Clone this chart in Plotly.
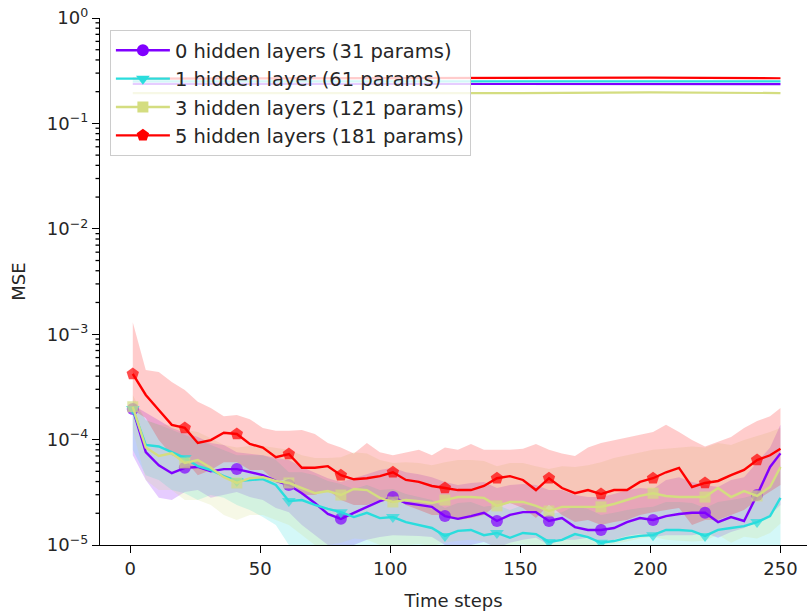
import math
import plotly.graph_objects as go

# ---------------- data ----------------
time_steps = [1, 6, 11, 16, 21, 26, 31, 36, 41, 46, 51, 56, 61, 66, 71, 76, 81, 86, 91, 96,
              101, 106, 111, 116, 121, 126, 131, 136, 141, 146, 151, 156, 161, 166, 171, 176,
              181, 186, 191, 196, 201, 206, 211, 216, 221, 226, 231, 236, 241, 246, 250]

# MSE values in units of 1e-5
mse0_mean = [19.5, 7.6, 5.7, 4.8, 5.4, 5.5, 5.0, 5.25, 5.25, 4.9, 4.6, 4.05, 3.71, 3.1, 2.5, 1.97,
             1.77, 2.02, 2.3, 2.61, 2.85, 2.5, 2.4, 2.3, 1.88, 1.77, 1.88, 2.02, 1.69, 1.93, 2.05,
             2.05, 1.69, 1.8, 1.48, 1.39, 1.39, 1.45, 1.65, 1.8, 1.73, 1.88, 1.97, 2.02, 2.02,
             1.65, 1.84, 1.69, 2.98, 5.5, 7.4]
mse0_upper = [21.3, 18.2, 15.3, 12.9, 11.6, 10.6, 9.3, 8.9, 7.6, 7.4, 7.1, 6.7, 6.4, 5.5, 4.9, 4.3,
              3.97, 4.3, 4.7, 5.15, 5.4, 4.9, 4.7, 4.4, 3.97, 3.71, 3.88, 3.97, 3.47, 3.71, 3.8,
              3.71, 3.32, 3.32, 2.98, 2.85, 2.85, 3.04, 3.32, 3.47, 3.4, 4.14, 4.4, 3.97, 3.71,
              3.55, 4.14, 4.4, 6.1, 8.4, 13.8]
mse0_lower = [7.1, 4.14, 2.8, 2.67, 3.18, 3.32, 2.8, 2.98, 3.18, 2.85, 2.67, 2.25, 2.05, 1.55, 1.24,
              1.0, 0.9, 1.0, 1.12, 1.19, 1.24, 1.24, 1.22, 1.19, 1.0, 0.96, 1.0, 1.07, 0.94, 1.05,
              1.12, 1.17, 1.0, 1.12, 1.12, 1.17, 1.07, 1.12, 1.22, 1.27, 1.19, 1.24, 1.24, 1.24,
              1.3, 1.17, 1.33, 1.45, 1.65, 1.93, 2.4]

mse1_mean = [19.5, 8.9, 8.6, 7.6, 6.7, 5.6, 5.15, 4.5, 4.05, 4.14, 4.22, 3.71, 2.61, 2.67, 2.4, 2.2,
             2.05, 1.84, 2.02, 1.8, 1.84, 1.65, 1.55, 1.45, 1.22, 1.36, 1.39, 1.24, 1.3, 1.17, 1.3,
             1.27, 1.07, 1.12, 1.27, 1.19, 1.05, 1.09, 1.17, 1.22, 1.24, 1.39, 1.39, 1.36, 1.22,
             1.39, 1.45, 1.51, 1.65, 1.88, 2.8]
mse1_upper = [23.8, 15.3, 13.8, 12.3, 11.1, 9.9, 8.9, 8.0, 7.1, 7.1, 7.1, 6.4, 4.9, 4.9, 4.6, 4.05,
              3.8, 3.4, 3.71, 3.32, 3.4, 3.04, 2.85, 2.67, 2.25, 2.5, 2.56, 2.3, 2.4, 2.15, 2.4,
              2.35, 1.97, 2.05, 2.35, 2.2, 1.93, 2.02, 2.15, 2.25, 2.3, 2.56, 2.56, 2.5, 2.25, 2.56,
              2.67, 2.8, 3.04, 3.47, 5.7]
mse1_lower = [8.0, 4.6, 4.14, 3.32, 3.1, 2.67, 2.98, 2.8, 2.4, 2.15, 1.84, 1.55, 1.0, 0.9, 0.62,
              0.55, 0.5, 0.52, 0.48, 0.55, 0.5, 0.46, 0.5, 0.52, 0.45, 0.5, 0.48, 0.5, 0.47, 0.5,
              0.52, 0.5, 0.46, 0.5, 0.48, 0.5, 0.45, 0.5, 0.52, 0.5, 0.48, 0.5, 0.53, 0.5, 0.48,
              0.55, 0.56, 0.58, 0.6, 0.65, 0.7]

mse3_mean = [20.5, 8.4, 7.0, 7.4, 6.0, 6.4, 5.4, 4.4, 3.88, 4.3, 4.4, 4.05, 3.88, 3.47, 3.1, 3.25,
             2.98, 3.4, 3.32, 2.8, 2.56, 2.67, 2.61, 2.5, 2.67, 2.85, 2.85, 2.8, 2.35, 2.56, 2.56,
             2.35, 2.1, 2.3, 2.3, 2.3, 2.3, 2.45, 2.67, 2.92, 3.1, 2.92, 2.85, 2.85, 2.85, 3.47,
             2.85, 3.25, 2.92, 3.55, 5.5]
mse3_upper = [26.5, 15.3, 13.8, 13.8, 12.3, 11.8, 10.3, 8.9, 8.4, 8.7, 8.7, 8.4, 8.0, 7.1, 6.7, 6.7,
              6.8, 7.6, 7.4, 6.4, 6.0, 6.1, 6.0, 5.7, 6.1, 6.4, 6.4, 6.25, 5.6, 6.0, 6.0, 5.6, 5.25,
              5.6, 5.5, 5.7, 6.1, 6.7, 7.1, 7.6, 8.0, 8.2, 8.4, 8.6, 8.4, 9.3, 8.9, 9.9, 10.8,
              11.8, 12.9]
mse3_lower = [12.3, 4.14, 3.32, 3.32, 2.67, 2.67, 2.4, 1.93, 1.73, 1.93, 1.93, 1.73, 1.55, 1.24,
              1.0, 1.0, 1.05, 1.15, 1.12, 1.0, 0.95, 1.0, 1.02, 0.98, 1.05, 1.1, 1.12, 1.08, 0.95,
              1.0, 1.02, 0.95, 0.9, 0.95, 0.96, 0.97, 1.0, 1.02, 1.08, 1.15, 1.2, 1.12, 1.1, 1.08,
              1.1, 1.25, 1.05, 1.2, 1.15, 1.3, 1.6]

mse5_mean = [42.0, 26.5, 19.1, 13.8, 12.9, 9.3, 9.9, 11.6, 11.3, 9.1, 8.4, 6.8, 7.3, 5.4, 5.4, 5.6,
             4.6, 4.2, 4.3, 4.5, 4.9, 4.14, 3.97, 3.63, 3.47, 3.32, 3.32, 3.63, 4.3, 4.5, 4.14,
             3.32, 4.3, 3.47, 3.1, 3.32, 3.04, 3.32, 3.32, 3.97, 4.3, 4.9, 5.4, 3.55, 3.88, 4.05,
             4.6, 5.15, 6.4, 7.1, 8.2]
mse5_upper = [130.0, 45.7, 43.7, 35.1, 29.6, 22.8, 19.9, 16.7, 17.1, 15.6, 12.9, 12.1, 12.1, 12.3,
              11.3, 9.3, 8.4, 7.4, 9.3, 7.6, 7.1, 7.6, 8.0, 7.1, 8.4, 8.0, 9.1, 8.0, 8.0, 8.0, 8.2,
              9.1, 8.0, 7.4, 7.0, 8.4, 9.3, 9.9, 10.6, 11.1, 11.8, 13.8, 11.8, 9.9, 8.6, 9.5, 10.6,
              12.9, 15.0, 16.7, 19.9]
mse5_lower = [19.1, 16.0, 9.9, 7.1, 6.4, 4.6, 5.15, 6.1, 6.1, 5.15, 5.15, 3.97, 4.3, 2.98, 2.98,
              3.32, 2.67, 2.4, 2.4, 2.67, 2.85, 2.4, 2.15, 1.93, 1.93, 1.73, 1.8, 1.93, 2.4, 2.5,
              2.25, 1.8, 2.4, 1.93, 1.65, 1.73, 1.55, 1.65, 1.73, 1.93, 2.05, 2.15, 2.25, 1.55,
              1.73, 1.73, 1.93, 2.15, 2.67, 3.18, 3.71]

# baseline (upper, flat) curves
baseline_t = [1, 50, 100, 150, 200, 250]
baseline0 = [0.237, 0.237, 0.236, 0.236, 0.237, 0.236]
baseline1 = [0.250, 0.250, 0.251, 0.252, 0.251, 0.250]
baseline3 = [0.194, 0.193, 0.193, 0.194, 0.197, 0.194]
baseline5 = [0.266, 0.268, 0.270, 0.274, 0.272, 0.268]

labels = ["0 hidden layers (31 params)", "1 hidden layer (61 params)",
          "3 hidden layers (121 params)", "5 hidden layers (181 params)"]
marker_steps = [1, 21, 41, 61, 81, 101, 121, 141, 161, 181, 201, 221, 241]
y_tick_vals = [1e-5, 1e-4, 1e-3, 1e-2, 1e-1, 1]
y_tick_text = ["10<sup>−5</sup>", "10<sup>−4</sup>", "10<sup>−3</sup>",
               "10<sup>−2</sup>", "10<sup>−1</sup>", "10<sup>0</sup>"]
y_minor_vals = [k * 10.0 ** e for e in range(-5, 0) for k in range(2, 10)]
x_tick_vals = [0, 50, 100, 150, 200, 250]
Y_LOG_RANGE = [-5, 0]

# ---------------- styling ----------------
colors = ["#8000ff", "#2adddd", "#d4dd80", "#ff0000"]
fills = ["rgba(128,0,255,0.2)", "rgba(42,221,221,0.2)", "rgba(212,221,128,0.2)", "rgba(255,0,0,0.2)"]
symbols = ["circle", "triangle-down", "square", "pentagon"]
msizes = [12, 12, 11, 13]
FONT = "DejaVu Sans"
PLOT_W = 807 - 100

series = [
    (mse0_mean, mse0_upper, mse0_lower, baseline0),
    (mse1_mean, mse1_upper, mse1_lower, baseline1),
    (mse3_mean, mse3_upper, mse3_lower, baseline3),
    (mse5_mean, mse5_upper, mse5_lower, baseline5),
]

fig = go.Figure()

def s(v):
    return [a * 1e-5 for a in v]

# bands + baseline lines
for i, (m, up, lo, base) in enumerate(series):
    fig.add_trace(go.Scatter(
        x=time_steps + time_steps[::-1], y=s(up) + s(lo)[::-1],
        fill="toself", fillcolor=fills[i], line=dict(width=0),
        mode="lines", showlegend=False, hoverinfo="skip"))
    fig.add_trace(go.Scatter(
        x=baseline_t, y=base, mode="lines", line=dict(color=colors[i], width=2.2),
        showlegend=False, hoverinfo="skip"))

# mean curves with markers every 20 steps
for i, (m, up, lo, base) in enumerate(series):
    sizes = [msizes[i] if t in marker_steps else 0 for t in time_steps]
    fig.add_trace(go.Scatter(
        x=time_steps, y=s(m), mode="lines+markers", name=labels[i], showlegend=False,
        line=dict(color=colors[i], width=2.4),
        marker=dict(symbol=symbols[i], size=sizes, color=colors[i], line=dict(width=0))))

# legend entries
for i in range(4):
    fig.add_trace(go.Scatter(
        x=[None], y=[None], mode="lines+markers", name=labels[i],
        line=dict(color=colors[i], width=2.4),
        marker=dict(symbol=symbols[i], size=msizes[i], color=colors[i], line=dict(width=0))))

# minor ticks on the log y axis (matplotlib style), positioned in axis-domain units
span = Y_LOG_RANGE[1] - Y_LOG_RANGE[0]
shapes = []
for v in y_minor_vals:
    fy = (math.log10(v) - Y_LOG_RANGE[0]) / span
    shapes.append(dict(type="line", xref="paper", yref="paper", x0=-4.5 / PLOT_W, x1=0,
                       y0=fy, y1=fy, layer="above", line=dict(color="black", width=1.3)))

fig.update_layout(
    width=807, height=616,
    margin=dict(l=100, r=0, t=18, b=71),
    paper_bgcolor="white", plot_bgcolor="white",
    font=dict(family=FONT, size=18, color="#262626"),
    showlegend=True,
    shapes=shapes,
    legend=dict(x=0.014, y=0.977, xanchor="left", yanchor="top",
                bgcolor="rgba(255,255,255,0.8)", bordercolor="#cccccc", borderwidth=1,
                font=dict(family=FONT, size=19.5, color="#262626"),
                itemwidth=54, tracegroupgap=0),
    xaxis=dict(range=[-11.6, 260.2], tickmode="array", tickvals=x_tick_vals,
               showline=True, linecolor="black", linewidth=1.3, mirror=False,
               ticks="outside", ticklen=7, tickwidth=1.3, tickcolor="black",
               showgrid=False, zeroline=False,
               title=dict(text="Time steps", standoff=16, font=dict(size=18))),
    yaxis=dict(type="log", range=Y_LOG_RANGE, tickmode="array", tickvals=y_tick_vals,
               ticktext=y_tick_text,
               showline=True, linecolor="black", linewidth=1.3,
               ticks="outside", ticklen=7, tickwidth=1.3, tickcolor="black",
               showgrid=False, zeroline=False,
               title=dict(text="MSE", standoff=16, font=dict(size=18))),
)

fig.write_html("out.html")
